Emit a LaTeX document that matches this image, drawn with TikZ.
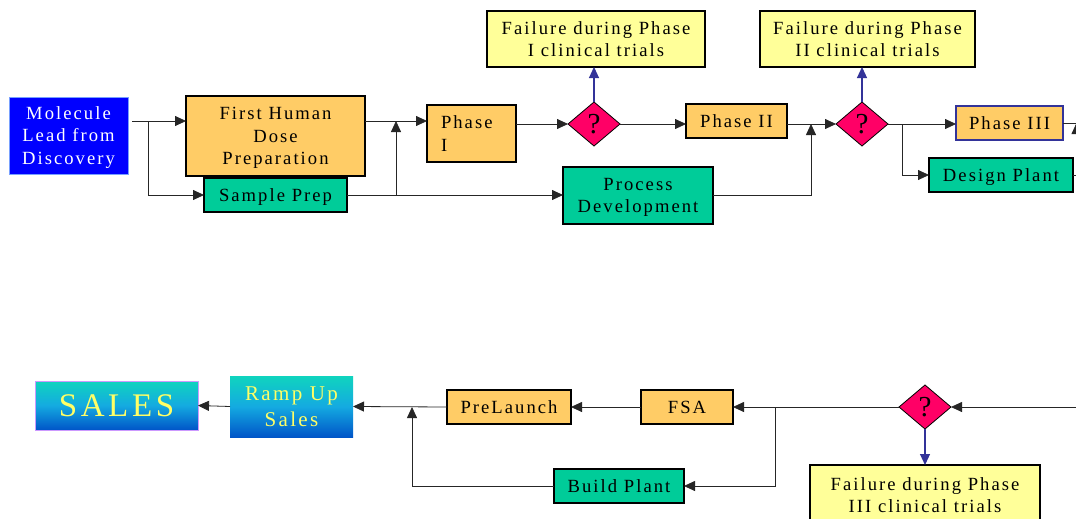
\documentclass[tikz,border=0pt]{standalone}
\usepackage{fontspec}
\setmainfont{Liberation Serif}[LetterSpace=11]
\usetikzlibrary{shapes.geometric,arrows.meta,calc}
\definecolor{boxorange}{RGB}{255,204,102}
\definecolor{boxgreen}{RGB}{0,204,153}
\definecolor{boxyellow}{RGB}{255,255,153}
\definecolor{decpink}{RGB}{255,0,102}
\definecolor{molblue}{RGB}{0,0,255}
\definecolor{molborder}{RGB}{120,160,255}
\definecolor{failarrow}{RGB}{51,51,153}
\definecolor{gradtop}{RGB}{16,212,190}
\definecolor{gradmid}{RGB}{20,170,225}
\definecolor{gradbot}{RGB}{0,85,200}
\definecolor{salestext}{RGB}{255,255,102}
\definecolor{salesborder}{RGB}{204,153,255}
\begin{document}
\begin{tikzpicture}[x=1pt,y=-1pt,
  every node/.style={inner sep=0pt, outer sep=0pt, font=\fontsize{18.6}{22.5}\selectfont, align=center, text depth=0pt},
  obox/.style={draw=black, line width=1.6pt, fill=boxorange},
  gbox/.style={draw=black, line width=1.6pt, fill=boxgreen},
  ybox/.style={draw=black, line width=1.1pt, fill=boxyellow},
  decision/.style={diamond, draw=black, line width=0.8pt, fill=decpink, minimum width=52pt, minimum height=44pt, font=\fontsize{29}{29}\selectfont},
  gradbox/.style={top color=gradtop, bottom color=gradbot, middle color=gradmid, text=salestext},
  arr/.style={draw=black!85, line width=0.8pt, -{Triangle[length=11pt,width=10pt]}},
  link/.style={draw=black!85, line width=0.8pt},
  farr/.style={draw=failarrow, line width=1.1pt, -{Triangle[length=11pt,width=10pt]}}
]
\useasboundingbox (0,0) rectangle (1076,519);
\clip (0,0) rectangle (1076,519);
\fill[white] (0,0) rectangle (1076,519);

% ---- top row ----
\node[fill=molblue, draw=molborder, line width=0.6pt, text=white, minimum width=119pt, minimum height=77pt] (mol) at (68.5,135.5) {Molecule\\Lead from\\Discovery};
\node[obox, minimum width=179pt, minimum height=80pt] (fh) at (275.5,136) {First Human\\Dose\\Preparation};
\node[gbox, minimum width=143pt, minimum height=34pt] (sp) at (275.5,195) {Sample Prep};
\node[obox, minimum width=89pt, minimum height=57pt, text width=61pt, align=left, text depth={}] (p1) at (471.5,133.5) {Phase\\I};
\node[decision] (d1) at (594,124) {?};
\node[ybox, minimum width=218pt, minimum height=56pt] (f1) at (596,39) {Failure during Phase\\I clinical trials};
\node[obox, minimum width=101pt, minimum height=34pt] (p2) at (736.5,121) {Phase II};
\node[gbox, minimum width=150pt, minimum height=57pt] (pd) at (638,195.5) {Process\\Development};
\node[decision] (d2) at (862,124) {?};
\node[ybox, minimum width=215pt, minimum height=56pt] (f2) at (867.5,39) {Failure during Phase\\II clinical trials};
\node[obox, draw=failarrow, minimum width=107pt, minimum height=34pt] (p3) at (1009.5,123) {Phase III};
\node[gbox, minimum width=144pt, minimum height=34pt] (dp) at (1001,175) {Design Plant};

\coordinate (r1) at (148,121);
\coordinate (r2) at (396,121);
\coordinate (r3) at (811,124);
\coordinate (r4) at (902,124);
\coordinate (e1) at (1090,123);
\coordinate (e2) at (1076.5,175);

\draw[arr, shorten <=4pt] (mol.east |- r1) -- (fh.west |- r1);
\draw[arr] (r1) |- (sp.west);
\draw[arr] (fh.east |- r2) -- (p1.west |- r2);
\draw[arr] (sp.east) -- (pd.west |- sp.east);
\draw[arr] (r2 |- sp.east) -- (r2);
\draw[arr] (p1.east |- d1.west) -- (d1.west);
\draw[arr] (d1.east) -- (p2.west |- d1.east);
\draw[farr] (d1.north) -- (f1.south -| d1.north);
\draw[arr] (p2.east |- d2.west) -- (d2.west);
\draw[link] (pd.east) -- (r3 |- pd.east);
\draw[arr] (r3 |- pd.east) -- (r3);
\draw[arr] (d2.east) -- (p3.west |- d2.east);
\draw[arr] (r4) |- (dp.west);
\draw[farr] (d2.north) -- (f2.south -| d2.north);
\draw[link] (p3.east) -- (e1 |- p3.east);
\draw[link] (dp.east) -- (e2 -| e1);
\draw[arr] (e2) -- (e2 |- p3.east);

% ---- bottom row ----
\node[gradbox, draw=salesborder, line width=0.8pt, minimum width=163pt, minimum height=49pt, font=\fontsize{33}{33}\selectfont] (sales) at (116.5,405.5) {SALES};
\node[gradbox, minimum width=123pt, minimum height=61pt, font=\fontsize{21}{26}\selectfont] (ramp) at (291.5,406.5) {Ramp Up\\Sales};
\node[obox, minimum width=124pt, minimum height=34pt] (pl) at (509,407) {PreLaunch};
\node[obox, minimum width=92pt, minimum height=34pt] (fsa) at (687,407) {FSA};
\node[decision] (d3) at (925,407) {?};
\node[ybox, minimum width=230pt, minimum height=60pt] (f3) at (925,495) {Failure during Phase\\III clinical trials};
\node[gbox, minimum width=130pt, minimum height=34pt] (bp) at (619,486) {Build Plant};

\coordinate (e3) at (1080,407);
\coordinate (r5) at (775,407);
\coordinate (r6) at (412,407);

\draw[arr] (ramp.west) -- (sales.east);
\draw[arr] (pl.west) -- (ramp.east);
\draw[arr] (fsa.west) -- (pl.east);
\draw[arr] (e3) -- (d3.east);
\draw[arr] (d3.west) -- (fsa.east);
\draw[arr] (r5) |- (bp.east);
\draw[arr] (bp.west) -| (r6);
\draw[farr] (d3.south) -- (f3.north);
\end{tikzpicture}
\end{document}
